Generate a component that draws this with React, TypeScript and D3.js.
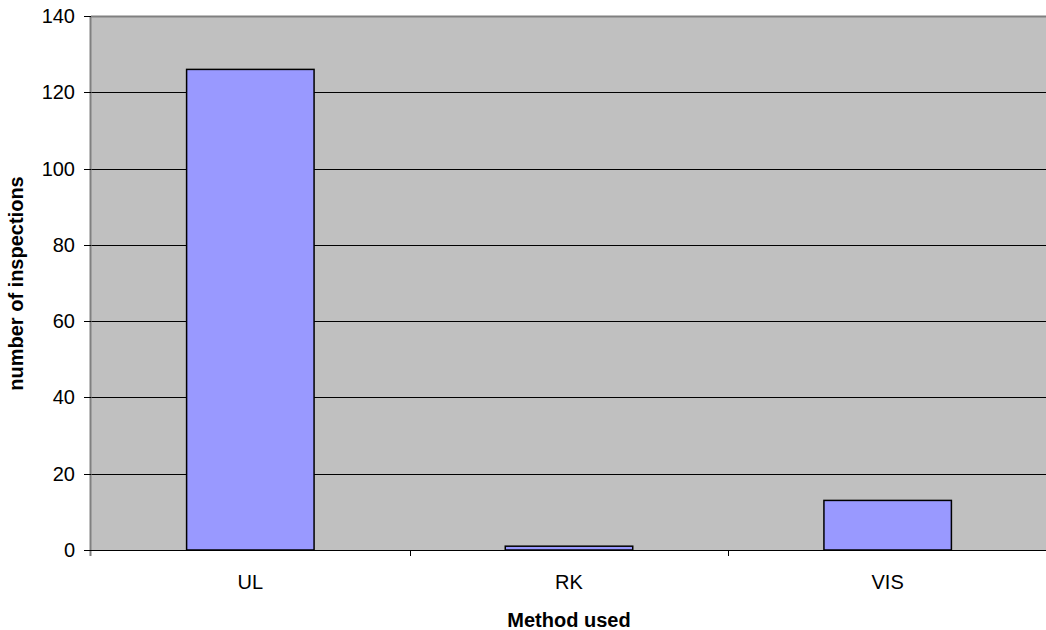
import React from "react";
import * as d3 from "d3";

const categories = ["UL", "RK", "VIS"];
const inspections = [126, 1, 13];
const yTicks = [0, 20, 40, 60, 80, 100, 120, 140];
const xTitle = "Method used";
const yTitle = "number of inspections";

const W = 1046;
const H = 630;
const plot = { left: 91, right: 1047, top: 16, bottom: 550 };
const FONT = "Arial, 'Liberation Sans', sans-serif";

export default function App() {
  const x = d3
    .scaleBand<string>()
    .domain(categories)
    .range([plot.left, plot.right])
    .paddingInner(0.6)
    .paddingOuter(0.3);
  const y = d3.scaleLinear().domain([0, 140]).range([plot.bottom, plot.top]);
  const step = x.step();
  const boundaries = d3.range(categories.length + 1).map((i) => plot.left + i * step);

  return (
    <svg
      width={W}
      height={H}
      style={{ position: "absolute", left: 0, top: 0, background: "#fff" }}
      fontFamily={FONT}
    >
      {/* plot background */}
      <rect
        x={plot.left}
        y={plot.top}
        width={plot.right - plot.left}
        height={plot.bottom - plot.top}
        fill="#C0C0C0"
      />
      {/* gridlines */}
      {yTicks
        .filter((t) => t > 0 && t < 140)
        .map((t) => (
          <line
            key={"g" + t}
            x1={plot.left}
            x2={plot.right}
            y1={Math.round(y(t)) + 0.5}
            y2={Math.round(y(t)) + 0.5}
            stroke="#000"
            strokeWidth={1}
          />
        ))}
      {/* plot border (top + left) */}
      <line x1={plot.left} x2={plot.right} y1={plot.top + 0.5} y2={plot.top + 0.5} stroke="#808080" strokeWidth={2} />
      <line x1={plot.left - 0.5} x2={plot.left - 0.5} y1={plot.top} y2={plot.bottom + 6} stroke="#808080" strokeWidth={2} />
      {/* bars */}
      {categories.map((c, i) => (
        <rect
          key={c}
          x={x(c)!}
          y={y(inspections[i])}
          width={x.bandwidth()}
          height={y(0) - y(inspections[i])}
          fill="#9999FF"
          stroke="#000"
          strokeWidth={1.5}
        />
      ))}
      {/* x axis */}
      <line x1={plot.left} x2={plot.right} y1={plot.bottom + 0.5} y2={plot.bottom + 0.5} stroke="#000" strokeWidth={1} />
      {boundaries.slice(1).map((bx, i) => (
        <line
          key={"xt" + i}
          x1={Math.round(bx) + 0.5}
          x2={Math.round(bx) + 0.5}
          y1={plot.bottom}
          y2={plot.bottom + 6}
          stroke="#000"
        />
      ))}
      {categories.map((c) => (
        <text
          key={"xl" + c}
          x={x(c)! + x.bandwidth() / 2}
          y={589}
          textAnchor="middle"
          fontSize={20}
          fill="#000"
        >
          {c}
        </text>
      ))}
      {/* y axis ticks and labels */}
      {yTicks.map((t) => (
        <g key={"yt" + t}>
          <line
            x1={plot.left - 7}
            x2={plot.left}
            y1={Math.round(y(t)) + 0.5}
            y2={Math.round(y(t)) + 0.5}
            stroke="#000"
          />
          <text x={75} y={y(t) + 7} textAnchor="end" fontSize={20} fill="#000">
            {t}
          </text>
        </g>
      ))}
      {/* axis titles */}
      <text
        x={(plot.left + plot.right) / 2}
        y={627}
        textAnchor="middle"
        fontSize={20}
        fontWeight="bold"
        fill="#000"
      >
        {xTitle}
      </text>
      <text
        transform={`translate(23, ${(170 + 397) / 2}) rotate(-90)`}
        textAnchor="middle"
        fontSize={20}
        fontWeight="bold"
        fill="#000"
      >
        {yTitle}
      </text>
    </svg>
  );
}
